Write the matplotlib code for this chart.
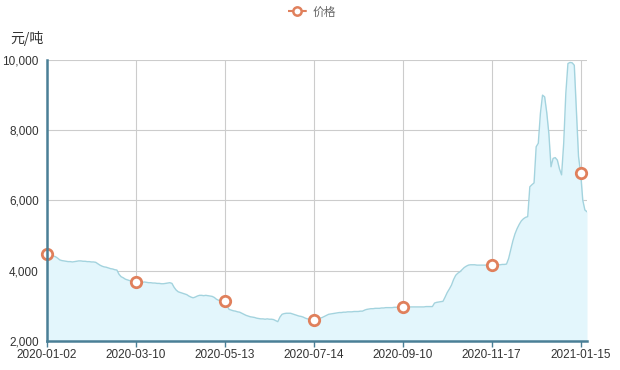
import matplotlib
matplotlib.use("Agg")
import matplotlib.pyplot as plt
from matplotlib.lines import Line2D
from matplotlib.ticker import FuncFormatter

plt.rcParams['font.family'] = ['Liberation Sans', 'Noto Sans CJK SC', 'DejaVu Sans']

tick_labels = ["2020-01-02", "2020-03-10", "2020-05-13", "2020-07-14",
               "2020-09-10", "2020-11-17", "2021-01-15"]
tick_step = 42

seg1 = [4480, 4450, 4420, 4420, 4400, 4360, 4310, 4290, 4280, 4270,
        4260, 4260, 4250, 4260, 4270, 4280, 4280, 4270, 4270, 4260,
        4260, 4250, 4250, 4240, 4200, 4160, 4130, 4110, 4100, 4080,
        4060, 4050, 4030, 4020, 3900, 3830, 3800, 3760, 3740, 3720,
        3700, 3690]
seg2 = [3680, 3680, 3670, 3670, 3680, 3670, 3660, 3660, 3650, 3650,
        3640, 3640, 3630, 3630, 3640, 3650, 3660, 3640, 3530, 3450,
        3400, 3380, 3360, 3340, 3320, 3280, 3250, 3230, 3250, 3280,
        3300, 3300, 3290, 3300, 3290, 3280, 3270, 3240, 3190, 3160,
        3150, 3140]
seg3 = [3140, 3000, 2900, 2880, 2860, 2850, 2830, 2820, 2790, 2760,
        2730, 2710, 2690, 2680, 2670, 2650, 2640, 2630, 2630, 2620,
        2630, 2620, 2620, 2610, 2580, 2550, 2680, 2760, 2780, 2790,
        2790, 2790, 2770, 2750, 2730, 2710, 2700, 2680, 2650, 2630,
        2620, 2600]
seg4 = [2590, 2610, 2630, 2650, 2670, 2700, 2730, 2760, 2770, 2780,
        2790, 2800, 2810, 2810, 2820, 2820, 2830, 2830, 2830, 2840,
        2840, 2840, 2850, 2850, 2880, 2900, 2910, 2920, 2920, 2930,
        2930, 2930, 2940, 2940, 2950, 2950, 2950, 2950, 2960, 2960,
        2960, 2960]
seg5 = [2960, 2960, 2960, 2970, 2970, 2970, 2970, 2970, 2970, 2970,
        2970, 2980, 2980, 2980, 2980, 3080, 3100, 3110, 3120, 3130,
        3250, 3380, 3480, 3590, 3750, 3870, 3930, 3970, 4030, 4090,
        4130, 4160, 4170, 4170, 4170, 4160, 4160, 4160, 4160, 4160,
        4160, 4160]
seg6 = [4160, 4160, 4160, 4170, 4170, 4180, 4180, 4190, 4350, 4600,
        4850, 5050, 5200, 5320, 5420, 5480, 5520, 5540, 6390, 6450,
        6500, 7530, 7630, 8480, 9000, 8950, 8500, 7900, 6960, 7200,
        7220, 7150, 6900, 6730, 7630, 9050, 9900, 9930, 9920, 9850,
        8580, 7250, 6780, 6010, 5730, 5680]

price = seg1 + seg2 + seg3 + seg4 + seg5 + seg6
x = list(range(len(price)))

line_color = "#a3d3de"
fill_color = "#e3f6fc"
marker_color = "#e0805c"
axis_color = "#4a7f96"
grid_color = "#cccccc"
text_color = "#333333"

fig = plt.figure(figsize=(6.2, 3.7), dpi=100)
ax = fig.add_axes([47/620, 1-341/370, (587-47)/620, 281/370])

ax.fill_between(x, 2000, price, color=fill_color, lw=0, zorder=1)
ax.plot(x, price, color=line_color, lw=1.0, zorder=2)
mk = x[::tick_step]
ax.plot(mk, [price[i] for i in mk], ls="none", marker="o", ms=7.5,
        mfc="white", mec=marker_color, mew=2, zorder=4, clip_on=False)

ax.set_xlim(0, len(price) - 1)
ax.set_ylim(2000, 10000)
ax.set_yticks(range(2000, 10001, 2000))
ax.yaxis.set_major_formatter(FuncFormatter(lambda v, p: f"{int(v):,}"))
ax.set_xticks(range(0, tick_step * len(tick_labels), tick_step))
ax.set_xticklabels(tick_labels)

ax.grid(True, color=grid_color, lw=0.8, zorder=0)
ax.set_axisbelow(True)
for s in ["top", "right"]:
    ax.spines[s].set_visible(False)
ax.spines["left"].set_color(axis_color)
ax.spines["left"].set_linewidth(1.8)
ax.spines["bottom"].set_color(axis_color)
ax.spines["bottom"].set_linewidth(1.8)
ax.spines["left"].set_zorder(5)
ax.spines["bottom"].set_zorder(5)

ax.tick_params(axis="y", length=0, pad=6, labelsize=8.5, labelcolor=text_color)
ax.tick_params(axis="x", length=4, color=axis_color, width=1, pad=2,
               labelsize=8.5, labelcolor=text_color)

fig.text(10/620, 1-38/370, "元/吨", fontsize=10, color=text_color,
         ha="left", va="center", family=['Noto Sans CJK SC', 'DejaVu Sans'])

handle = Line2D([], [], color=marker_color, ls="--", lw=1.5, marker="o",
                ms=6, mfc="white", mec=marker_color, mew=1.8)
fig.legend([handle], ["价格"], loc="center", bbox_to_anchor=(312/620, 1-12/370),
           frameon=False, handlelength=1.6, handletextpad=0.5,
           labelcolor="#666666",
           prop={'family': ['Noto Sans CJK SC', 'DejaVu Sans'], 'size': 8.5})

fig.savefig("out.png", dpi=100)
